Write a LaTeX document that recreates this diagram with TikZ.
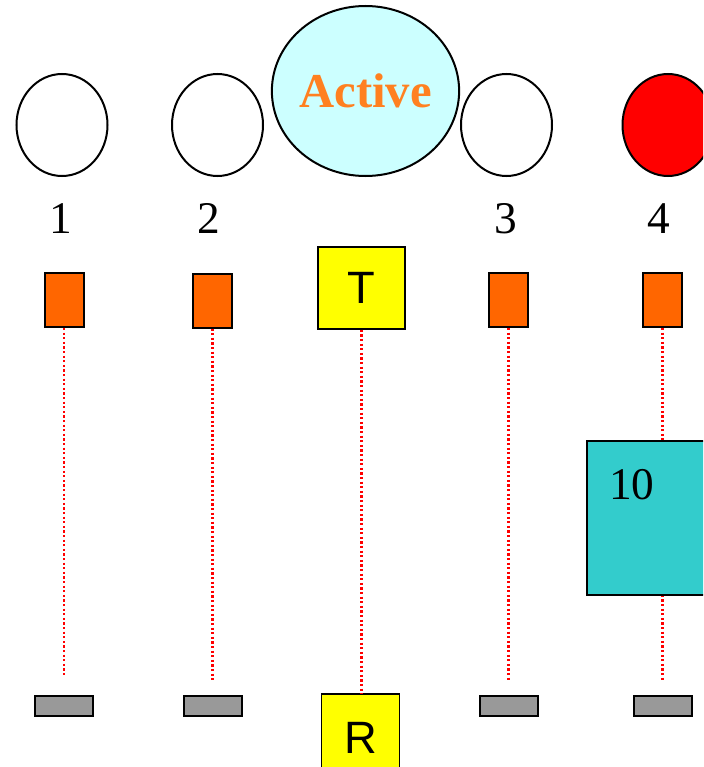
\documentclass[tikz,border=0pt]{standalone}
\usepackage{fontspec}
\setmainfont{Liberation Serif}
\newfontfamily\arialf{Liberation Sans}
\usetikzlibrary{shapes.geometric}
\newdimen\pxu \pxu=0.75pt
\definecolor{orangefill}{HTML}{FF6600}
\definecolor{activetxt}{HTML}{FF8020}
\definecolor{activefill}{HTML}{CCFFFF}
\definecolor{tealfill}{HTML}{33CCCC}
\definecolor{barfill}{HTML}{999999}
\definecolor{yelfill}{HTML}{FFFF00}
\definecolor{redfill}{HTML}{FF0000}
\tikzset{
  oval/.style={ellipse, draw=black, line width=2\pxu, inner sep=0pt, minimum width=91\pxu, minimum height=102\pxu},
  numlab/.style={anchor=base, inner sep=0pt, font=\fontsize{34}{40}\selectfont},
  orect/.style={rectangle, draw=black, line width=2\pxu, fill=orangefill, inner sep=0pt, minimum width=39\pxu, minimum height=54\pxu},
  ybox/.style={rectangle, draw=black, line width=1.5\pxu, fill=yelfill, inner sep=0pt, font=\arialf\fontsize{34}{40}\selectfont},
  gbar/.style={rectangle, draw=black, line width=2\pxu, fill=barfill, inner sep=0pt, minimum width=58\pxu, minimum height=20\pxu},
  dline/.style={draw=red, line width=2.4\pxu, dash pattern=on 2.2\pxu off 2.4\pxu},
}
\begin{document}
\begin{tikzpicture}[x=0.75pt, y=-0.75pt]
\useasboundingbox (0,0) rectangle (703,767);
\clip (0,0) rectangle (703,767);
% ovals
\node[oval] (e1) at (62,125) {};
\node[oval] (e2) at (217.5,125) {};
\node[oval, fill=activefill, minimum width=187\pxu, minimum height=170\pxu] (act) at (365.5,91)
  {\textcolor{activetxt}{\bfseries\fontsize{36.5}{40}\selectfont Active}};
\node[oval] (e3) at (506.5,125) {};
\node[oval, fill=redfill] (e4) at (668,125) {};
% labels
\node[numlab] (l1) at (61,233) {1};
\node[numlab] (l2) at (209,233) {2};
\node[numlab] (l3) at (505.5,233) {3};
\node[numlab] (l4) at (658.5,233) {4};
% top rects
\node[orect] (r1) at (64,300) {};
\node[orect] (r2) at (212.5,300.5) {};
\node[ybox, minimum width=87\pxu, minimum height=82\pxu] (t) at (361.5,288) {T};
\node[orect] (r3) at (508.5,300) {};
\node[orect] (r4) at (662.5,300) {};
% bottom bars
\node[gbar] (b1) at (64,705.5) {};
\node[gbar] (b2) at (213,705.5) {};
\node[ybox, minimum width=78\pxu, minimum height=100\pxu, text depth=0pt] (r) at (360.5,744) {\raisebox{13\pxu}{R}};
\node[gbar] (b3) at (509,705.5) {};
\node[gbar] (b4) at (663,705.5) {};
% dotted connectors
\draw[dline, shorten >=20\pxu] (r1.south) -- (r1.south |- b1.north);
\draw[dline, shorten >=15\pxu] (r2.south) -- (r2.south |- b2.north);
\draw[dline] (t.south) -- (t.south |- r.north);
\draw[dline, shorten >=13\pxu] (r3.south) -- (r3.south |- b3.north);
\draw[dline, shorten >=15\pxu] (r4.south) -- (r4.south |- b4.north);
% box 10
\node[rectangle, draw=black, line width=2\pxu, fill=tealfill, inner sep=0pt, minimum width=153\pxu, minimum height=154\pxu] (box) at (663.5,518) {};
\node[anchor=base west, inner sep=0pt, font=\fontsize{34}{40}\selectfont] (ten) at (609,499) {10};
\end{tikzpicture}
\end{document}
